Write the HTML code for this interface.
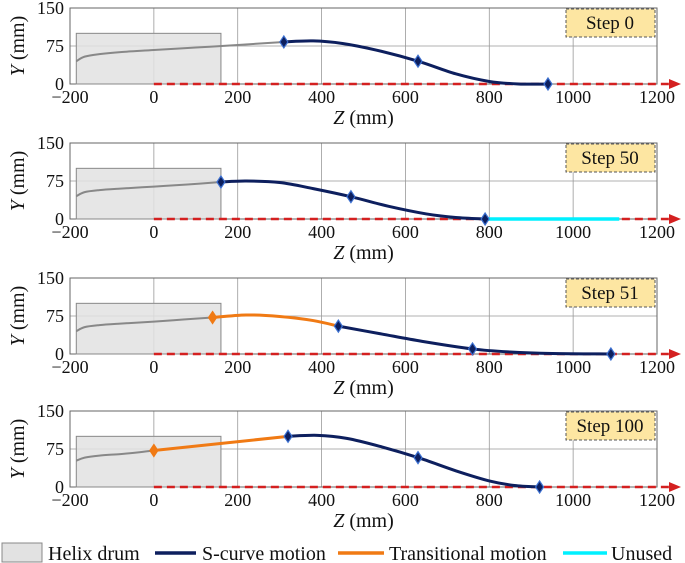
<!DOCTYPE html>
<html><head><meta charset="utf-8"><style>
html,body{margin:0;padding:0;background:#fff}
svg{display:block;font-family:"Liberation Serif","Times New Roman",serif}
svg text{font-family:"Liberation Serif","Times New Roman",serif}
</style></head><body>
<svg id="c" width="685" height="563" viewBox="0 0 685 563"></svg>
<script>
const stepLabels=["Step 0","Step 50","Step 51","Step 100"];
const xTicks=[-200,0,200,400,600,800,1000,1200];
const yTicks=[0,75,150];
const drum=[-185,160,100];
const greyCurves=[
 [[-185,45],[-165,54],[-130,59],[-80,63],[0,67],[100,72],[200,77],[310,83]],
 [[-185,45],[-165,53],[-130,57],[-80,60],[0,64],[80,68],[160,73]],
 [[-185,45],[-165,53],[-130,57],[-80,60],[0,64],[70,68],[140,72]],
 [[-185,52],[-165,58],[-130,62],[-80,65],[-40,68],[0,72]]];
const blueCurves=[
 [[310,83],[380,85],[450,80],[530,67],[630,45],[720,20],[800,5],[870,0],[940,0]],
 [[160,73],[220,75],[300,72],[380,60],[470,44],[560,25],[650,10],[720,3],[790,0]],
 [[440,55],[540,40],[640,25],[760,10],[850,4],[950,1],[1090,0]],
 [[320,100],[390,102],[460,96],[540,80],[630,58],[720,32],[800,12],[860,3],[920,0]]];
const orangeCurves=[[],[],
 [[140,72],[220,77],[300,74],[380,66],[440,55]],
 [[0,72],[320,100]]];
const cyanLines=[[],[[790,0],[1110,0]],[],[]];
const blueMarkers=[[[310,83],[630,45],[940,0]],[[160,73],[470,44],[790,0]],[[440,55],[760,10],[1090,0]],[[320,100],[630,58],[920,0]]];
const orangeMarkers=[[],[],[[140,72]],[[0,72]]];

const NS="http://www.w3.org/2000/svg";
const svg=document.getElementById('c');
function el(t,a,p){const e=document.createElementNS(NS,t);for(const k in a)e.setAttribute(k,a[k]);(p||svg).appendChild(e);return e;}
const X0=70,X1=657;
const panelTops=[8,143,278,411];
const H=76;
const FF='Liberation Serif, Times New Roman, serif';
function sx(z){return X0+(z+200)/1400*(X1-X0);}
function smooth(pts,sy){
 if(pts.length<3){return "M"+pts.map(p=>sx(p[0])+","+sy(p[1])).join(" L");}
 const P=pts.map(p=>[sx(p[0]),sy(p[1])]);
 let d="M"+P[0][0]+","+P[0][1];
 for(let i=0;i<P.length-1;i++){
  const p0=P[Math.max(0,i-1)],p1=P[i],p2=P[i+1],p3=P[Math.min(P.length-1,i+2)];
  const c1=[p1[0]+(p2[0]-p0[0])/6,p1[1]+(p2[1]-p0[1])/6];
  const c2=[p2[0]-(p3[0]-p1[0])/6,p2[1]-(p3[1]-p1[1])/6];
  d+=" C"+c1[0]+","+c1[1]+" "+c2[0]+","+c2[1]+" "+p2[0]+","+p2[1];
 }
 return d;
}
function diamond(g,x,y,fill){
 const m=el('path',{d:`M${x},${y-6} L${x+4},${y} L${x},${y+6} L${x-4},${y} Z`,fill:fill,stroke:fill==='#f07a14'?'#f07a14':'#3b6fd0','stroke-width':1.2},g);
 
 
}
panelTops.forEach((top,i)=>{
 const sy=v=>top+H-v/150*H;
 const g=el('g',{});
 
 
 xTicks.forEach(t=>{el('line',{x1:sx(t),x2:sx(t),y1:top,y2:top+H,stroke:'#999','stroke-width':0.8},g);});
 yTicks.forEach(t=>{el('line',{x1:X0,x2:X1,y1:sy(t),y2:sy(t),stroke:'#999','stroke-width':0.8},g);});
 el('rect',{x:X0,y:top,width:X1-X0,height:H,fill:'none',stroke:'#666','stroke-width':1},g);
 const r=el('rect',{x:sx(-185),y:sy(drum[2]),width:sx(drum[1])-sx(drum[0]),height:sy(0)-sy(drum[2]),fill:'#e2e2e2','fill-opacity':0.85,stroke:'#888','stroke-width':1},g);
 
 
 xTicks.forEach(t=>{const tx=el('text',{x:sx(t),y:top+H+19,'font-size':18,'font-family':FF,'text-anchor':'middle',fill:'#111'},g);tx.textContent=(t<0?'\u2212'+(-t):t);
  });
 yTicks.forEach(t=>{const tx=el('text',{x:X0-6,y:sy(t)+6,'font-size':18,'font-family':FF,'text-anchor':'end',fill:'#111'},g);tx.textContent=t;
  });
 const xt=el('text',{x:sx(500),y:top+H+40,'font-size':20,'font-family':FF,'text-anchor':'middle',fill:'#111'},g);
 xt.innerHTML='<tspan font-style="italic">Z</tspan> (mm)';
 
 const yt=el('text',{x:0,y:0,'font-size':20,'font-family':FF,'text-anchor':'middle',fill:'#111',transform:`translate(24,${top+H/2}) rotate(-90)`},g);
 yt.innerHTML='<tspan font-style="italic">Y</tspan> (mm)';
 
 const rd=el('line',{x1:sx(0),x2:X1+14,y1:sy(0),y2:sy(0),stroke:'#d42020','stroke-width':2.5,'stroke-dasharray':'8,5'},g);
 
 el('path',{d:`M${X1+12},${sy(0)-5} L${X1+24},${sy(0)} L${X1+12},${sy(0)+5} Z`,fill:'#d42020'},g);
 if(cyanLines[i].length){const c=el('path',{d:smooth(cyanLines[i],sy),stroke:'#00f0ff','stroke-width':3.5,fill:'none'},g);
  }
 const gr=el('path',{d:smooth(greyCurves[i],sy),stroke:'#888','stroke-width':2,fill:'none'},g);
 
 if(orangeCurves[i].length){const o=el('path',{d:smooth(orangeCurves[i],sy),stroke:'#f07a14','stroke-width':3,fill:'none'},g);
  }
 const b=el('path',{d:smooth(blueCurves[i],sy),stroke:'#0d1f5e','stroke-width':3,fill:'none'},g);
 
 blueMarkers[i].forEach(p=>diamond(g,sx(p[0]),sy(p[1]),'#0d1f5e'));
 orangeMarkers[i].forEach(p=>diamond(g,sx(p[0]),sy(p[1]),'#f07a14'));
 const lb=el('rect',{x:566,y:top+1,width:89,height:28,fill:'#fde6a2',stroke:'#555','stroke-dasharray':'3,2','stroke-width':1},g);
 
 const lt=el('text',{x:610,y:top+21,'font-size':19,'font-family':FF,'text-anchor':'middle',fill:'#111'},g);
 lt.textContent=stepLabels[i];
 
});
const lg=el('g',{});

el('rect',{x:2,y:543,width:40,height:19,fill:'#e2e2e2',stroke:'#888'},lg);
const legItems=[[48,'Helix drum'],[202,'S-curve motion'],[389,'Transitional motion'],[611,'Unused']];
el('line',{x1:155,x2:196,y1:553,y2:553,stroke:'#0d1f5e','stroke-width':3.5},lg);
el('line',{x1:338,x2:384,y1:553,y2:553,stroke:'#f07a14','stroke-width':3.5},lg);
el('line',{x1:563,x2:607,y1:553,y2:553,stroke:'#00f0ff','stroke-width':3.5},lg);
legItems.forEach(it=>{const t=el('text',{x:it[0],y:560,'font-size':20,'font-family':FF,fill:'#111'},lg);t.textContent=it[1];
 });
</script>
</body></html>
